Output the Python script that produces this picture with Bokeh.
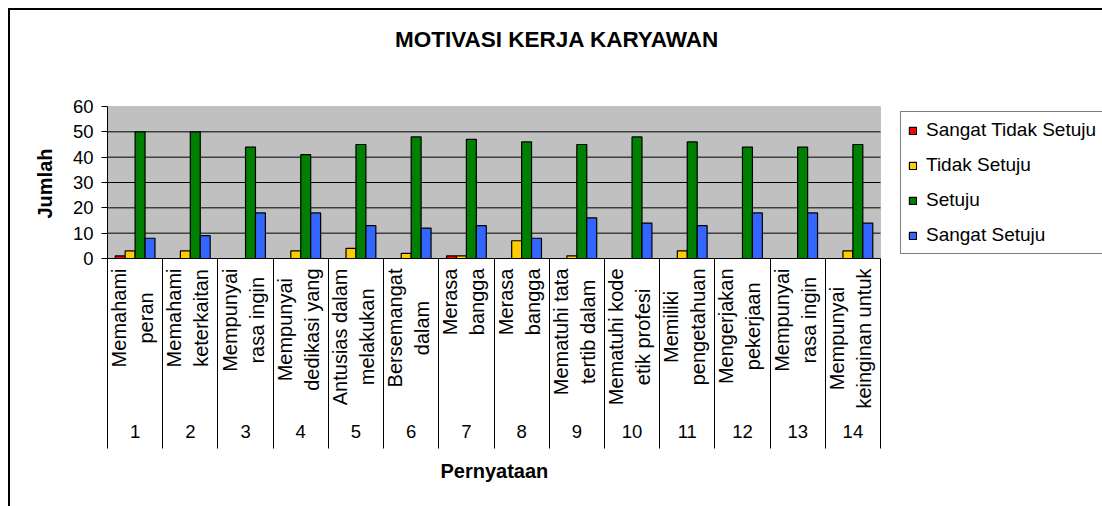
import numpy as np
from bokeh.plotting import figure
from bokeh.models import (ColumnDataSource, Range1d, FixedTicker, Legend, LegendItem, Label,
                          BoxAnnotation, Title)
from bokeh.core.properties import value
from bokeh.transform import dodge
from bokeh.embed import file_html
from bokeh.resources import INLINE

# ---------------- data ----------------
categories = [str(i) for i in range(1, 15)]
label_line1 = ["Memahami", "Memahami", "Mempunyai", "Mempunyai", "Antusias dalam",
               "Bersemangat", "Merasa", "Merasa", "Mematuhi tata", "Mematuhi kode",
               "Memiliki", "Mengerjakan", "Mempunyai", "Mempunyai"]
label_line2 = ["peran", "keterkaitan", "rasa ingin", "dedikasi yang", "melakukan",
               "dalam", "bangga", "bangga", "tertib dalam", "etik profesi",
               "pengetahuan", "pekerjaan", "rasa ingin", "keinginan untuk"]
series_names = ["Sangat Tidak Setuju", "Tidak Setuju", "Setuju", "Sangat Setuju"]
sangat_tidak_setuju = [1, 0, 0, 0, 0, 0, 1, 0, 0, 0, 0, 0, 0, 0]
tidak_setuju = [3, 3, 0, 3, 4, 2, 1, 7, 1, 0, 3, 0, 0, 3]
setuju = [50, 50, 44, 41, 45, 48, 47, 46, 45, 48, 46, 44, 44, 45]
sangat_setuju = [8, 9, 18, 18, 13, 12, 13, 8, 16, 14, 13, 18, 18, 14]
y_ticks = [0, 10, 20, 30, 40, 50, 60]
title_text = "MOTIVASI KERJA KARYAWAN"
y_label = "Jumlah"
x_label = "Pernyataan"

# ---------------- layout (pixels) ----------------
FONT = "Liberation Sans"
colors = ["#FF0000", "#FFCC00", "#008000", "#3366FF"]
W, H = 1102, 506
F_LEFT, P_RIGHT = 107, 880          # plot-area left/right
P_TOP, P_BOTTOM = 106, 258          # gray plot-area top (60) / bottom (0)
F_TOP, F_BOTTOM = 10, 448           # frame extends over title, legend & category table
n = len(categories)
kx = (P_RIGHT - F_LEFT) / float(n)
ky = (P_BOTTOM - P_TOP) / float(y_ticks[-1] - y_ticks[0])
x_lo, x_hi = 0.5, 0.5 + (W - F_LEFT) / kx
y_lo = y_ticks[0] - (F_BOTTOM - P_BOTTOM) / ky
y_hi = y_ticks[-1] + (P_TOP - F_TOP) / ky

p = figure(width=W, height=H, output_backend="svg", toolbar_location=None,
           x_range=Range1d(x_lo, x_hi), y_range=Range1d(y_lo, y_hi),
           min_border_left=F_LEFT, min_border_right=0,
           min_border_top=F_TOP, min_border_bottom=H - F_BOTTOM,
           background_fill_color=None, border_fill_color=None,
           outline_line_color=None)
# outer chart border (left and top edges, as in the reference crop)
p.styles = {"box-shadow": "inset 8px 8px 0 0 white, inset 10px 10px 0 0 black"}

# gray plot area
p.add_layout(BoxAnnotation(left=0.5, right=n + 0.5, bottom=y_ticks[0], top=y_ticks[-1],
                           fill_color="#C0C0C0", fill_alpha=1, line_color="#808080",
                           line_width=1, level="underlay"))

# horizontal grid lines (limited to the plot area) and category axis line at 0
p.xgrid.visible = False
p.ygrid.visible = False
grid_src = ColumnDataSource(dict(y=y_ticks[:-1],
                                 c=["black"] * (len(y_ticks) - 1)))
p.segment(x0=0.5, x1=n + 0.5, y0="y", y1="y", source=grid_src, line_color="c", line_width=1)

# y axis
ya = p.yaxis[0]
ya.ticker = FixedTicker(ticks=y_ticks)
ya.bounds = (y_ticks[0], y_ticks[-1])
ya.major_tick_out = 6
ya.major_tick_in = 0
ya.minor_tick_out = 0
ya.minor_tick_in = 0
ya.minor_tick_line_color = None
ya.axis_line_color = "black"
ya.major_tick_line_color = "black"
ya.major_label_text_font = FONT
ya.major_label_text_font_size = "18.5px"
ya.major_label_text_color = "black"
ya.major_label_standoff = 8
p.add_layout(Title(text=y_label, align="left", offset=F_BOTTOM - 218, standoff=28,
                   text_font=FONT, text_font_size="20px", text_font_style="bold",
                   text_color="black"), "left")

# x axis at the bottom of the category table: numbers + separators (inward minor ticks)
xa = p.xaxis[0]
xpos = list(range(1, n + 1))
xa.ticker = FixedTicker(ticks=xpos, minor_ticks=[i + 0.5 for i in range(0, n + 1)])
xa.major_label_overrides = {i: c for i, c in zip(xpos, categories)}
xa.major_tick_line_color = None
xa.major_tick_out = 0
xa.major_tick_in = 0
xa.minor_tick_out = 0
xa.minor_tick_in = F_BOTTOM - P_BOTTOM
xa.minor_tick_line_color = "black"
xa.axis_line_color = None
xa.major_label_standoff = -24
xa.major_label_text_font = FONT
xa.major_label_text_font_size = "18.5px"
xa.major_label_text_color = "black"
p.add_layout(Title(text=x_label, align="left", offset=440 - F_LEFT, standoff=22,
                   vertical_align="top", text_font=FONT, text_font_size="20px",
                   text_font_style="bold", text_color="black"), "below")

# bars
src = ColumnDataSource(dict(x=xpos, s0=sangat_tidak_setuju, s1=tidak_setuju,
                            s2=setuju, s3=sangat_setuju))
w = 0.18
renderers = []
for j in range(4):
    off = (j - 1.5) * w
    r = p.vbar(x=dodge("x", off), top="s%d" % j, width=w, source=src,
               fill_color=colors[j], line_color="black", line_width=1.2)
    renderers.append(r)

# legend (inside the extended frame, cut by the right edge as in the reference)
legend = Legend(items=[LegendItem(label=nm, renderers=[r]) for nm, r in zip(series_names, renderers)],
                location=(900 - F_LEFT, F_BOTTOM - 254), orientation="vertical",
                glyph_width=9, glyph_height=9, label_height=20, label_standoff=9,
                padding=7, spacing=13, margin=0,
                label_text_font=FONT, label_text_font_size="19px", label_text_color="black",
                border_line_color="black", border_line_width=1,
                background_fill_color="white", background_fill_alpha=1)
p.add_layout(legend)

# rotated category description labels (approx. Arial advance widths, per 1000 em)
AW = {" ": 278, "a": 556, "b": 556, "c": 500, "d": 556, "e": 556, "f": 278, "g": 556,
      "h": 556, "i": 222, "j": 222, "k": 500, "l": 222, "m": 833, "n": 556, "o": 556,
      "p": 556, "r": 333, "s": 500, "t": 278, "u": 556, "y": 500, "M": 833, "A": 667,
      "B": 667}
LBL_SIZE = 20


def text_w(s):
    return sum(AW.get(c, 556) for c in s) * LBL_SIZE / 1000.0


lbl_y = [-(10 + max(text_w(a), text_w(b)) / 2.0) / ky for a, b in zip(label_line1, label_line2)]
lab_src = ColumnDataSource(dict(x=xpos, y=lbl_y, t1=label_line1, t2=label_line2))
for col, xoff in (("t1", -16), ("t2", 11)):
    p.text(x="x", y="y", text=col, source=lab_src, angle=np.pi / 2,
           text_align="center", text_baseline="middle", x_offset=xoff,
           text_font=value(FONT), text_font_size="%dpx" % LBL_SIZE, text_color="black")

# chart title (inside the extended frame)
p.add_layout(Label(x=556.5 - F_LEFT, y=F_BOTTOM - 39, x_units="screen",
                   y_units="screen", text=title_text, text_align="center",
                   text_baseline="middle", text_font=FONT, text_font_size="22.5px",
                   text_font_style="bold", text_color="black"))

open("out.html", "w").write(file_html(p, INLINE))
